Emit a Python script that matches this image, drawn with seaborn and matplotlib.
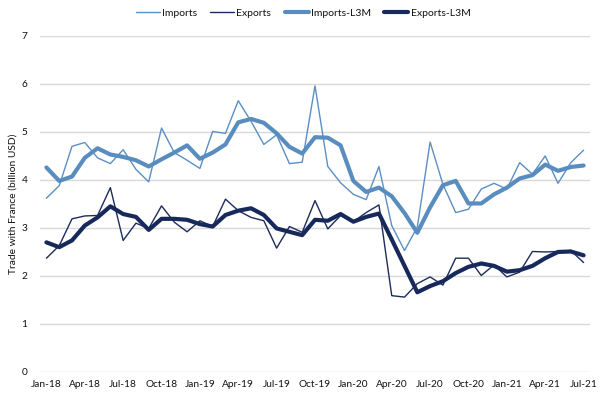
import pandas as pd
import matplotlib.pyplot as plt
import seaborn as sns

# Monthly trade with France, Jan-18 .. Jul-21 (billion USD)
months = pd.date_range('2018-01-01', '2021-07-01', freq='MS').strftime('%b-%y').tolist()

imports = [3.62, 3.88, 4.70, 4.78, 4.46, 4.34, 4.63, 4.22, 3.96, 5.08, 4.57, 4.41,
           4.24, 5.01, 4.97, 5.65, 5.22, 4.74, 4.94, 4.34, 4.37, 5.96, 4.28, 3.94,
           3.70, 3.59, 4.28, 3.05, 2.53, 3.02, 4.79, 3.91, 3.32, 3.39, 3.81, 3.93,
           3.81, 4.36, 4.12, 4.50, 3.93, 4.36, 4.62]
exports = [2.37, 2.63, 3.19, 3.25, 3.26, 3.84, 2.74, 3.10, 2.99, 3.46, 3.12, 2.92,
           3.15, 3.03, 3.60, 3.36, 3.22, 3.15, 2.58, 3.03, 2.91, 3.57, 2.98, 3.26,
           3.13, 3.32, 3.48, 1.59, 1.56, 1.84, 1.98, 1.81, 2.37, 2.37, 2.01, 2.23,
           1.98, 2.08, 2.51, 2.50, 2.51, 2.53, 2.28]
imports_l3m = [4.26, 3.98, 4.07, 4.46, 4.66, 4.53, 4.48, 4.41, 4.28, 4.43, 4.57, 4.72,
               4.44, 4.57, 4.74, 5.20, 5.27, 5.19, 4.97, 4.69, 4.55, 4.89, 4.88, 4.72,
               3.98, 3.75, 3.84, 3.66, 3.31, 2.90, 3.43, 3.89, 3.98, 3.51, 3.51, 3.70,
               3.84, 4.03, 4.10, 4.32, 4.19, 4.27, 4.30]
exports_l3m = [2.70, 2.60, 2.74, 3.05, 3.22, 3.45, 3.29, 3.23, 2.96, 3.19, 3.19, 3.17,
               3.08, 3.03, 3.27, 3.36, 3.41, 3.27, 2.99, 2.92, 2.85, 3.17, 3.15, 3.29,
               3.13, 3.23, 3.30, 2.76, 2.21, 1.66, 1.79, 1.89, 2.06, 2.19, 2.26, 2.21,
               2.09, 2.12, 2.21, 2.37, 2.50, 2.51, 2.43]

df = pd.DataFrame({'Month': range(len(months)),
                   'Imports': imports, 'Exports': exports,
                   'Imports-L3M': imports_l3m, 'Exports-L3M': exports_l3m})
long_df = df.melt(id_vars='Month', var_name='Series', value_name='Value')

sns.set_style('white')
plt.rcParams['font.family'] = ['Lato', 'DejaVu Sans']

palette = {'Imports': '#5b8fc4', 'Exports': '#1c2c5c',
           'Imports-L3M': '#5a8dbf', 'Exports-L3M': '#16295a'}
widths = {'Imports': 1.0, 'Exports': 1.0, 'Imports-L3M': 3.0, 'Exports-L3M': 3.0}

fig = plt.figure(figsize=(6, 3.99), dpi=100)
ax = fig.add_axes([0.0667, 0.0677, 0.9166, 0.8423])

sns.lineplot(data=long_df, x='Month', y='Value', hue='Series', size='Series',
             palette=palette, sizes=widths, ax=ax, legend=False)

ax.set_xlim(-0.5, len(months) - 0.5)
ax.set_ylim(0, 7)
ax.set_yticks(range(8))
ax.set_xticks(range(0, len(months), 3))
ax.set_xticklabels(months[::3])
ax.grid(axis='y', color='#d9d9d9', linewidth=1)
ax.set_axisbelow(True)
for s in ax.spines.values():
    s.set_visible(False)
ax.tick_params(axis='both', length=0, labelsize=7.3, colors='#111111')
ax.tick_params(axis='y', pad=9)
ax.tick_params(axis='x', pad=6)
ax.set_xlabel('')
ax.set_ylabel('Trade with France (billion USD)', fontsize=7.4, color='#111111', labelpad=3)

handles = [plt.Line2D([], [], color=palette[k], linewidth=widths[k]) for k in palette]
fig.legend(handles, list(palette), loc='center', bbox_to_anchor=(0.505, 0.967),
           ncol=4, frameon=False, fontsize=7.5, labelcolor='#111111',
           handlelength=2.3, handletextpad=0.2, columnspacing=1.3)

fig.savefig('out.png', dpi=100)
